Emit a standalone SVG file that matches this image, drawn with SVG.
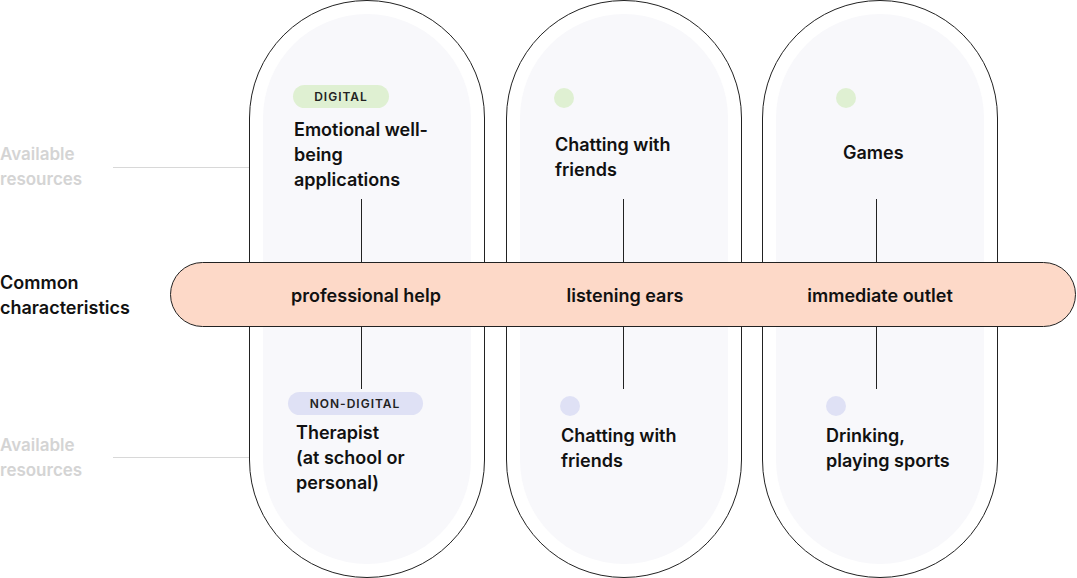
<svg xmlns="http://www.w3.org/2000/svg" width="1077" height="578" viewBox="0 0 1077 578">
<style>
.pill{fill:#fff;stroke:#222;stroke-width:1}
.inner{fill:#f8f8fb}
.t{font-family:Inter,"Liberation Sans",sans-serif;font-weight:600;font-size:18px;fill:#111}
.g{font-family:Inter,"Liberation Sans",sans-serif;font-weight:600;font-size:17px;fill:#d4d4d4}
.tag{font-family:Inter,"Liberation Sans",sans-serif;font-weight:600;font-size:12px;letter-spacing:1px;fill:#222}
.ln{stroke:#222;stroke-width:1}
.gl{stroke:#d8d8d8;stroke-width:1}
</style>
<rect width="1077" height="578" fill="#fff"/>
<g id="col1"><rect class="pill" x="249.5" y="0.5" width="235" height="577" rx="117.5"/><rect class="inner" x="263" y="14" width="208" height="550" rx="104"/></g>
<g id="col2"><rect class="pill" x="506.5" y="0.5" width="235" height="577" rx="117.5"/><rect class="inner" x="520" y="14" width="208" height="550" rx="104"/></g>
<g id="col3"><rect class="pill" x="762.5" y="0.5" width="235" height="577" rx="117.5"/><rect class="inner" x="776" y="14" width="208" height="550" rx="104"/></g>
<g id="labels">
<text class="g" x="0" y="160">Available</text><text class="g" x="0" y="185">resources</text>
<text class="g" x="0" y="451">Available</text><text class="g" x="0" y="476">resources</text>
<text class="t" x="0" y="289">Common</text><text class="t" x="0" y="314">characteristics</text>
</g>
<g id="connectors">
<line class="gl" x1="113" y1="167.5" x2="249" y2="167.5"/>
<line class="gl" x1="113" y1="457.5" x2="249" y2="457.5"/>
<line class="ln" x1="361.5" y1="199" x2="361.5" y2="262"/>
<line class="ln" x1="361.5" y1="327" x2="361.5" y2="389"/>
<line class="ln" x1="623.5" y1="199" x2="623.5" y2="262"/>
<line class="ln" x1="623.5" y1="327" x2="623.5" y2="389"/>
<line class="ln" x1="876.5" y1="199" x2="876.5" y2="262"/>
<line class="ln" x1="876.5" y1="327" x2="876.5" y2="389"/>
</g>
<g id="band"><rect x="170.5" y="262.5" width="905" height="64" rx="32" fill="#fdd9c8" stroke="#222"/>
<text class="t" x="366" y="302" text-anchor="middle">professional help</text>
<text class="t" x="625" y="302" text-anchor="middle">listening ears</text>
<text class="t" x="880" y="302" text-anchor="middle">immediate outlet</text></g>
<g id="top1"><rect x="293" y="85" width="96" height="23" rx="11.5" fill="#dff0d2"/><text class="tag" x="341" y="101" text-anchor="middle">DIGITAL</text>
<text class="t" x="294" y="136">Emotional well-</text><text class="t" x="294" y="161">being</text><text class="t" x="294" y="186">applications</text></g>
<g id="top2"><circle cx="564" cy="98" r="10" fill="#dff0d2"/><text class="t" x="555" y="151">Chatting with</text><text class="t" x="555" y="176">friends</text></g>
<g id="top3"><circle cx="846" cy="98" r="10" fill="#dff0d2"/><text class="t" x="843" y="159">Games</text></g>
<g id="bot1"><rect x="288" y="392" width="135" height="23" rx="11.5" fill="#dfe1f5"/><text class="tag" x="355" y="408" text-anchor="middle">NON-DIGITAL</text>
<text class="t" x="296" y="439">Therapist</text><text class="t" x="296" y="464">(at school or</text><text class="t" x="296" y="489">personal)</text></g>
<g id="bot2"><circle cx="570" cy="406" r="10" fill="#dfe1f5"/><text class="t" x="561" y="442">Chatting with</text><text class="t" x="561" y="467">friends</text></g>
<g id="bot3"><circle cx="836" cy="406" r="10" fill="#dfe1f5"/><text class="t" x="826" y="442">Drinking,</text><text class="t" x="826" y="467">playing sports</text></g>
</svg>
